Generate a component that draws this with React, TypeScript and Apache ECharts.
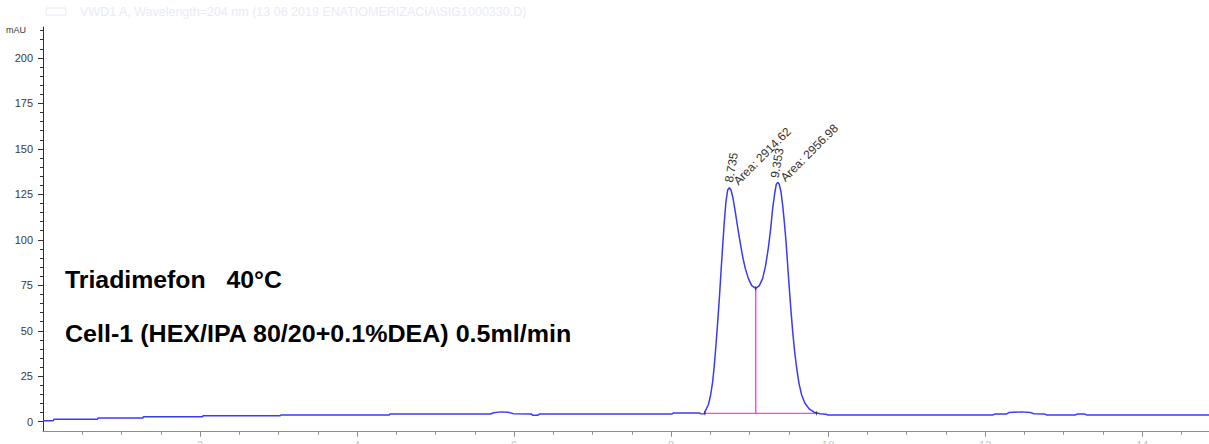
import React, { useEffect, useRef } from "react";
import * as echarts from "echarts";

// ---- data ----
const signalTime = [
  0, 0.13, 0.14, 0.69, 0.7, 1.27, 1.28, 2.03, 2.04, 3.02, 3.03, 4.41, 4.42, 5.7, 5.74, 5.83, 5.92, 6.0,
  6.22, 6.24, 6.3, 6.32, 8.01, 8.03, 8.36, 8.38, 8.42,
  8.431, 8.473, 8.503, 8.529, 8.55, 8.571, 8.593, 8.614, 8.635, 8.657, 8.677, 8.698, 8.72, 8.741, 8.762,
  8.784, 8.813, 8.843, 8.877, 8.911, 8.944, 8.983, 9.026, 9.077, 9.123, 9.166, 9.204, 9.237, 9.268, 9.293,
  9.319, 9.339, 9.357, 9.377, 9.399, 9.42, 9.441, 9.463, 9.484, 9.505, 9.527, 9.548, 9.573, 9.599, 9.628,
  9.662, 9.704, 9.759, 9.819, 9.895, 9.97, 10.0,
  12.1, 12.12, 12.27, 12.3, 12.46, 12.58, 12.62, 12.76, 12.78, 13.15, 13.17, 13.27, 13.29, 14.85,
];
const signalMAU = [
  0.55, 0.55, 1.3, 1.3, 2.0, 2.0, 2.75, 2.75, 3.3, 3.3, 3.7, 3.7, 4.2, 4.2, 4.9, 5.4, 5.2, 4.3,
  4.2, 3.5, 3.5, 4.2, 4.2, 4.8, 4.8, 4.3, 4.4,
  5.5, 9.2, 14.7, 22.0, 31.2, 42.2, 55.0, 67.8, 82.5, 97.1, 110.0, 120.9, 127.4, 128.6, 127.4,
  123.7, 116.4, 108.1, 99.0, 90.7, 84.3, 78.8, 74.8, 73.3, 74.8, 78.8, 86.1, 95.3, 106.3, 117.3,
  125.6, 130.5, 131.6, 130.5, 126.4, 119.1, 110.0, 99.0, 86.1, 73.3, 60.5, 49.5, 38.5, 29.4, 21.1,
  14.7, 10.1, 7.0, 5.2, 4.4, 4.1, 3.7,
  3.7, 4.2, 4.2, 5.0, 5.4, 5.0, 4.4, 4.2, 3.7, 3.7, 4.2, 4.2, 3.7, 3.7,
];

const peakTimes = [8.735, 9.353];
const peakApexTimes = [8.741, 9.357];
const peakHeights = [128.6, 131.6];
const peakAreas = ["2914.62", "2956.98"];

const integrationStart = [8.43, 4.6];
const integrationEnd = [9.85, 4.6];
const dropLineTime = 9.077;
const dropLineTop = 73.3;

const yMajorTicks = [0, 25, 50, 75, 100, 125, 150, 175, 200];
const yMinorTicks = [
  5, 10, 15, 20, 30, 35, 40, 45, 55, 60, 65, 70, 80, 85, 90, 95, 105, 110, 115, 120, 130, 135, 140, 145,
  155, 160, 165, 170, 180, 185, 190, 195, 205, 210, 215,
];
const xMajorTicks = [2, 4, 6, 8, 10, 12, 14];
const xMinorTicks = [
  0.5, 1, 1.5, 2.5, 3, 3.5, 4.5, 5, 5.5, 6.5, 7, 7.5, 8.5, 9, 9.5, 10.5, 11, 11.5, 12.5, 13, 13.5, 14.5,
];

const titleLine1 = "Triadimefon   40°C";
const titleLine2 = "Cell-1 (HEX/IPA 80/20+0.1%DEA) 0.5ml/min";
const headerText = "VWD1 A, Wavelength=204 nm (13 06 2019 ENATIOMERIZACIA\\SIG1000330.D)";

const X_MIN = 0;
const X_MAX = 14.85;
const Y_MIN = -5.5;
const Y_MAX = 217;

const FONT = '"Liberation Sans", Arial, sans-serif';

export default function App() {
  const ref = useRef<HTMLDivElement>(null);

  useEffect(() => {
    if (!ref.current) return;
    const chart = echarts.init(ref.current, undefined, { renderer: "svg" });

    const lineData = signalTime.map((t, i) => [t, signalMAU[i]]);

    // offsets are expressed in the rotated label frame
    const rtLabelOffsets = [
      [4.9, -0.9],
      [3.5, -3.4],
    ];
    const areaLabelOffsets = [
      [7.9, 1.6],
      [5.6, 2.3],
    ];

    const option: any = {
      animation: false,
      textStyle: { fontFamily: FONT },
      grid: { left: 43, right: 0, top: 27, bottom: 38.3, outerBoundsMode: "none", containLabel: false },
      xAxis: [
        {
          type: "value",
          min: X_MIN,
          max: X_MAX,
          position: "bottom",
          axisLine: { show: true, onZero: false, lineStyle: { color: "#8c8c8c", width: 1 } },
          axisTick: { show: true, length: 5, customValues: xMajorTicks, lineStyle: { color: "#8c8c8c" } },
          axisLabel: {
            show: true,
            customValues: xMajorTicks,
            margin: 8,
            color: "#c4c4c4",
            fontSize: 11,
            fontFamily: FONT,
          },
          splitLine: { show: false },
        },
        {
          type: "value",
          min: X_MIN,
          max: X_MAX,
          position: "bottom",
          offset: 0,
          axisLine: { show: false, onZero: false },
          axisTick: { show: true, length: 3, customValues: xMinorTicks, lineStyle: { color: "#8c8c8c" } },
          axisLabel: { show: false },
          splitLine: { show: false },
        },
      ],
      yAxis: [
        {
          type: "value",
          min: Y_MIN,
          max: Y_MAX,
          position: "left",
          name: "mAU",
          nameLocation: "end",
          nameGap: -3,
          nameTextStyle: {
            fontSize: 9,
            color: "#333",
            align: "right",
            verticalAlign: "middle",
            padding: [0, 17, 0, 0],
            fontFamily: FONT,
          },
          axisLine: { show: true, onZero: false, lineStyle: { color: "#333", width: 1 } },
          axisTick: { show: true, length: 5, customValues: yMajorTicks, lineStyle: { color: "#333" } },
          axisLabel: {
            show: true,
            customValues: yMajorTicks,
            margin: 10,
            color: "#3a3a3a",
            fontSize: 11,
            fontFamily: FONT,
          },
          splitLine: { show: false },
        },
        {
          type: "value",
          min: Y_MIN,
          max: Y_MAX,
          position: "left",
          offset: 0,
          axisLine: { show: false, onZero: false },
          axisTick: { show: true, length: 3, customValues: yMinorTicks, lineStyle: { color: "#333" } },
          axisLabel: { show: false },
          splitLine: { show: false },
        },
      ],
      graphic: [
        {
          type: "rect",
          shape: { x: 46, y: 8, width: 20, height: 7 },
          style: { fill: "none", stroke: "#e6e9f3", lineWidth: 1 },
          silent: true,
        },
        {
          type: "text",
          x: 80,
          y: 11.5,
          style: {
            text: headerText,
            font: `12.5px ${FONT}`,
            fill: "#e8ebf5",
            verticalAlign: "middle",
          },
          silent: true,
        },
        {
          type: "text",
          x: 65,
          y: 280,
          scaleX: 1.08,
          style: { text: titleLine1, font: `bold 23px ${FONT}`, fill: "#000", verticalAlign: "middle" },
          silent: true,
        },
        {
          type: "text",
          x: 65,
          y: 334,
          scaleX: 1.09,
          style: { text: titleLine2, font: `bold 23px ${FONT}`, fill: "#000", verticalAlign: "middle" },
          silent: true,
        },
      ],
      series: [
        {
          name: "signal",
          type: "line",
          xAxisIndex: 0,
          yAxisIndex: 0,
          data: lineData,
          showSymbol: false,
          symbol: "none",
          lineStyle: { color: "#3b3bf5", width: 1.5 },
          z: 3,
        },
        {
          name: "baseline",
          type: "line",
          xAxisIndex: 0,
          yAxisIndex: 0,
          data: [integrationStart, integrationEnd],
          showSymbol: false,
          symbol: "none",
          lineStyle: { color: "#ff3cff", width: 1.4 },
          z: 2,
        },
        {
          name: "drop",
          type: "line",
          xAxisIndex: 0,
          yAxisIndex: 0,
          data: [
            [dropLineTime, integrationStart[1]],
            [dropLineTime, dropLineTop],
          ],
          showSymbol: false,
          symbol: "none",
          lineStyle: { color: "#ff3cff", width: 1.4 },
          z: 2,
        },
        {
          name: "marks",
          type: "scatter",
          xAxisIndex: 0,
          yAxisIndex: 0,
          symbol: "rect",
          symbolSize: [1, 4],
          itemStyle: { color: "#222" },
          data: [integrationStart, integrationEnd, [dropLineTime, dropLineTop]],
          z: 4,
        },
        {
          name: "rt",
          type: "scatter",
          xAxisIndex: 0,
          yAxisIndex: 0,
          symbolSize: 1,
          itemStyle: { color: "rgba(0,0,0,0)" },
          data: peakTimes.map((rt, i) => ({
            value: [peakApexTimes[i], peakHeights[i]],
            label: {
              show: true,
              formatter: String(rt),
              position: [0, 0],
              offset: rtLabelOffsets[i],
              rotate: 80,
              align: "left",
              verticalAlign: "middle",
              fontSize: 12,
              color: "#333",
              opacity: 1,
              fontFamily: FONT,
            },
          })),
          z: 5,
        },
        {
          name: "area",
          type: "scatter",
          xAxisIndex: 0,
          yAxisIndex: 0,
          symbolSize: 1,
          itemStyle: { color: "rgba(0,0,0,0)" },
          data: peakAreas.map((a, i) => ({
            value: [peakApexTimes[i], peakHeights[i]],
            label: {
              show: true,
              formatter: "Area: " + a,
              position: [0, 0],
              offset: areaLabelOffsets[i],
              rotate: 45,
              align: "left",
              verticalAlign: "middle",
              fontSize: 12,
              color: "#333",
              opacity: 1,
              fontFamily: FONT,
            },
          })),
          z: 5,
        },
      ],
    };

    chart.setOption(option);
    return () => chart.dispose();
  }, []);

  return (
    <div
      style={{
        position: "fixed",
        left: 0,
        top: 0,
        width: 1209,
        height: 444,
        overflow: "hidden",
        background: "#fff",
      }}
    >
      <div ref={ref} style={{ width: 1209, height: 470 }} />
    </div>
  );
}
